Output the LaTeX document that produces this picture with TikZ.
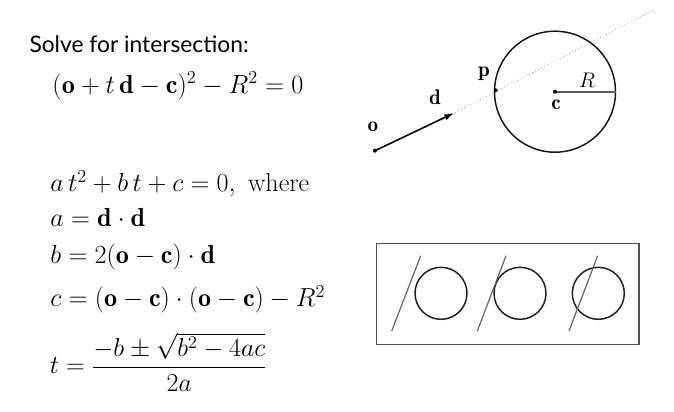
\documentclass[tikz,border=0pt]{standalone}
\usepackage{amsmath}
\usepackage{fontspec}
\newfontfamily\solvefont{Lato}

\tikzset{every picture/.style={line width=0.75pt}}

\begin{document}
\begin{tikzpicture}[x=0.75pt,y=0.75pt,yscale=-1,xscale=1]
\useasboundingbox (0,0) rectangle (674,411); %set diagram to the size of the reference

% Text Node
\draw (29,52.7) node (solve) [anchor=base west][inner sep=0pt]  [font=\fontsize{17.1}{21}\solvefont]  {Solve for intersection:};
% Text Node
\draw (52,93) node (eqray) [anchor=base west][inner sep=0pt]  [font=\fontsize{20.74}{25}\selectfont,xscale=0.95,yscale=0.95]  {$(\mathbf{o}+t\,\mathbf{d}-\mathbf{c})^2-R^2=0$};
% Text Node
\draw (50,191.7) node (eqquad) [anchor=base west][inner sep=0pt]  [font=\fontsize{20.74}{25}\selectfont,xscale=0.945,yscale=0.945]  {$a\,t^2+b\,t+c=0,\ \text{where}$};
% Text Node
\draw (50,226.7) node (eqa) [anchor=base west][inner sep=0pt]  [font=\fontsize{20.74}{25}\selectfont,xscale=0.945,yscale=0.945]  {$a=\mathbf{d}\cdot\mathbf{d}$};
% Text Node
\draw (50,263.5) node (eqb) [anchor=base west][inner sep=0pt]  [font=\fontsize{20.74}{25}\selectfont,xscale=0.945,yscale=0.945]  {$b=2(\mathbf{o}-\mathbf{c})\cdot\mathbf{d}$};
% Text Node
\draw (50,306.5) node (eqc) [anchor=base west][inner sep=0pt]  [font=\fontsize{20.74}{25}\selectfont,xscale=0.945,yscale=0.945]  {$c=(\mathbf{o}-\mathbf{c})\cdot(\mathbf{o}-\mathbf{c})-R^2$};
% Text Node
\draw (49.3,373.8) node (eqt) [anchor=base west][inner sep=0pt]  [font=\fontsize{20.74}{25}\selectfont,xscale=0.935,yscale=0.935]  {$t=\dfrac{-b\pm\sqrt{b^2-4ac}}{2a}$};

% Points of the ray and the sphere
\coordinate (o) at (375,150.7);
\coordinate (tip) at (452,114);
\coordinate (p) at (495.7,90.3);
\coordinate (far) at (655,9.3);
\coordinate (c) at (555,91.7);
\coordinate (rim) at (615.5,91.7);

%Straight Lines [id:rayfar] 
\draw [color={rgb, 255:red, 150; green, 150; blue, 150 }  ,line width=0.6, dotted]    (tip) -- (far) ;
%Straight Lines [id:raydir] 
\draw [line width=1.2]    (o) -- (tip) ;
\draw [shift={(tip)}, rotate = 154.5] [fill=black][line width=0.08]  [draw opacity=0] (7.5,-3) -- (0,0) -- (7.5,3) -- cycle    ;
%Shape: Circle [id:sphere] 
\draw [color={rgb, 255:red, 20; green, 20; blue, 20 }  ,line width=1.1]  (c) circle [radius=60.5] ;
%Straight Lines [id:radius] 
\draw [color={rgb, 255:red, 90; green, 90; blue, 90 }  ,line width=1.3]    (c) -- (rim) ;
%Shape: Circle [id:dots] 
\fill (o) circle [radius=2] ;
\fill (p) circle [radius=2] ;
\fill (c) circle [radius=2] ;

% Text Node
\draw (373,127) node (labo) [inner sep=0.75pt]  [font=\fontsize{14.4}{18}\selectfont,xscale=1.1,yscale=1.1]  {$\mathbf{o}$};
% Text Node
\draw (435,97) node (labd) [inner sep=0.75pt]  [font=\fontsize{14.4}{18}\selectfont,xscale=1.1,yscale=1.1]  {$\mathbf{d}$};
% Text Node
\draw (484,74) node (labp) [inner sep=0.75pt]  [font=\fontsize{14.4}{18}\selectfont,xscale=1.1,yscale=1.1]  {$\mathbf{p}$};
% Text Node
\draw (587,80) node (labR) [inner sep=0.75pt]  [font=\fontsize{14.4}{18}\selectfont,xscale=1.1,yscale=1.1]  {$R$};
% Text Node
\draw (556,105) node (labc) [inner sep=0.75pt]  [font=\fontsize{14.4}{18}\selectfont,xscale=1.1,yscale=1.1]  {$\mathbf{c}$};

%Shape: Rectangle [id:cases] 
\draw [color={rgb, 255:red, 80; green, 80; blue, 80 }  ,line width=0.9]  (376.7,243.3) rectangle (639,344.3) ;
%Shape: Circle [id:miss] 
\draw [color={rgb, 255:red, 30; green, 30; blue, 30 }  ,line width=1.1]  (441,293.3) circle [radius=26] ;
%Shape: Circle [id:touch] 
\draw [color={rgb, 255:red, 30; green, 30; blue, 30 }  ,line width=1.1]  (520,293.3) circle [radius=26] ;
%Shape: Circle [id:cross] 
\draw [color={rgb, 255:red, 30; green, 30; blue, 30 }  ,line width=1.1]  (598.3,293.3) circle [radius=26] ;
%Straight Lines [id:missline] 
\draw [color={rgb, 255:red, 100; green, 100; blue, 100 }  ,line width=0.9]    (391.7,331) -- (420.7,255.7) ;
%Straight Lines [id:touchline] 
\draw [color={rgb, 255:red, 100; green, 100; blue, 100 }  ,line width=0.9]    (477.3,331) -- (506,255.7) ;
%Straight Lines [id:crossline] 
\draw [color={rgb, 255:red, 100; green, 100; blue, 100 }  ,line width=0.9]    (569,331) -- (597.7,255.7) ;

\end{tikzpicture}
\end{document}
